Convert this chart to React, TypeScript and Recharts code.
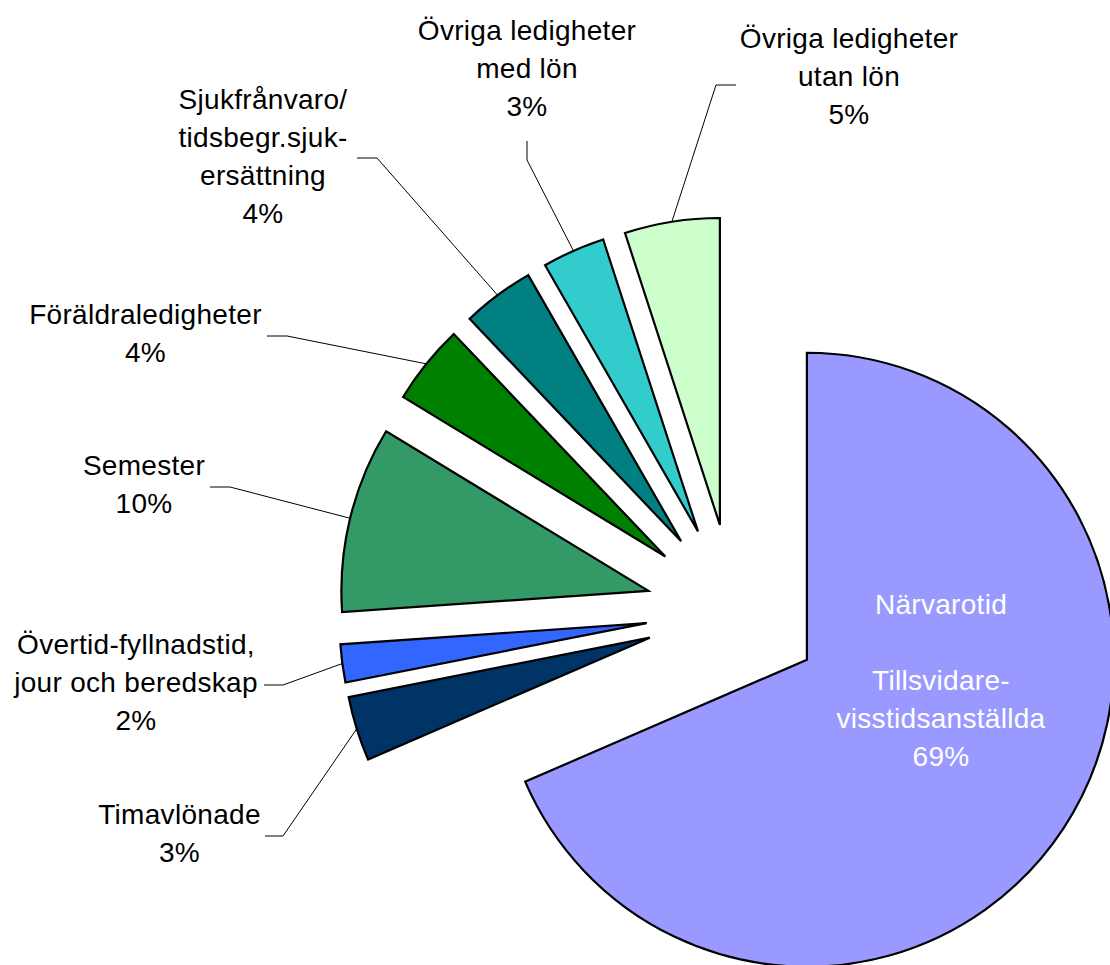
import React from 'react';
import { PieChart, Pie, Cell } from 'recharts';

// ---- data (values in tenths of a percent) ----
const categories = [
  'Närvarotid Tillsvidare-visstidsanställda',
  'Timavlönade',
  'Övertid-fyllnadstid, jour och beredskap',
  'Semester',
  'Föräldraledigheter',
  'Sjukfrånvaro/tidsbegr.sjukersättning',
  'Övriga ledigheter med lön',
  'Övriga ledigheter utan lön',
];
const shares = [685, 34, 20, 98, 42, 38, 33, 50];
const labelLines = [
  ['Närvarotid', '', 'Tillsvidare-', 'visstidsanställda'],
  ['Timavlönade'],
  ['Övertid-fyllnadstid,', 'jour och beredskap'],
  ['Semester'],
  ['Föräldraledigheter'],
  ['Sjukfrånvaro/', 'tidsbegr.sjuk-', 'ersättning'],
  ['Övriga ledigheter', 'med lön'],
  ['Övriga ledigheter', 'utan lön'],
];
const colors = ['#9999FF', '#003366', '#3366FF', '#339966', '#008000', '#008080', '#33CCCC', '#CCFFCC'];

// ---- layout ----
const W = 1110;
const H = 965;
const CX = 733.6;
const CY = 611.6;
const R = 307;
const EXPLODE = 87.7;
const LINE_H = 38;
const FONT = "'Liberation Sans', Arial, sans-serif";

type LabelLayout = { x: number; y: number; fill: string; elbow?: [number, number]; end?: [number, number] };
const labelLayout: LabelLayout[] = [
  { x: 941, y: 614, fill: '#ffffff' },
  { x: 179.5, y: 824, fill: '#000', elbow: [283, 836], end: [265, 836] },
  { x: 136, y: 654, fill: '#000', elbow: [283, 685], end: [264, 685] },
  { x: 144, y: 475, fill: '#000', elbow: [230, 487], end: [210, 487] },
  { x: 145.5, y: 324, fill: '#000', elbow: [287, 336], end: [267, 336] },
  { x: 263, y: 109, fill: '#000', elbow: [377, 158], end: [357, 158] },
  { x: 527, y: 40, fill: '#000', elbow: [527, 160], end: [527, 141] },
  { x: 849, y: 48, fill: '#000', elbow: [716, 85], end: [736, 85] },
];

const data = categories.map((name, i) => ({ name, value: shares[i] }));
const total = shares.reduce((a, b) => a + b, 0);
const mids: number[] = [];
{
  let acc = 0;
  shares.forEach((v) => {
    mids.push(90 - (360 * (acc + v / 2)) / total);
    acc += v;
  });
}

function renderLabel(p: any, i: number, cx: number, cy: number) {
  if (p.index !== i) return null;
  const L = labelLayout[i];
  const rad = (mids[i] * Math.PI) / 180;
  const ex = cx + R * Math.cos(rad);
  const ey = cy - R * Math.sin(rad);
  const lines = [...labelLines[i], `${Math.round((shares[i] * 100) / total)}%`];
  return (
    <g key={`lbl-${i}`}>
      {L.elbow && L.end ? (
        <polyline
          points={`${ex},${ey} ${L.elbow[0]},${L.elbow[1]} ${L.end[0]},${L.end[1]}`}
          fill="none"
          stroke="#000"
          strokeWidth={1}
        />
      ) : null}
      <text textAnchor="middle" fontFamily={FONT} fontSize={28} fill={L.fill} letterSpacing={0.3}>
        {lines.map((t, k) =>
          t ? (
            <tspan key={k} x={L.x} y={L.y + k * LINE_H}>
              {t}
            </tspan>
          ) : null
        )}
      </text>
    </g>
  );
}

export default function App() {
  return (
    <div style={{ position: 'absolute', left: 0, top: 0, width: W, height: H, background: '#fff' }}>
      <PieChart width={W} height={H} margin={{ top: 0, right: 0, bottom: 0, left: 0 }}>
        {data.map((_, i) => {
          const rad = (mids[i] * Math.PI) / 180;
          const cx = CX + EXPLODE * Math.cos(rad);
          const cy = CY - EXPLODE * Math.sin(rad);
          return (
            <Pie
              key={i}
              data={data}
              dataKey="value"
              nameKey="name"
              cx={cx}
              cy={cy}
              innerRadius={0}
              outerRadius={R}
              startAngle={90}
              endAngle={-270}
              isAnimationActive={false}
              labelLine={false}
              stroke="#000"
              strokeWidth={2.2}
              label={(p: any) => renderLabel(p, i, cx, cy)}
            >
              {data.map((d, j) => (
                <Cell
                  key={j}
                  fill={j === i ? colors[j] : 'none'}
                  stroke={j === i ? '#000' : 'none'}
                  strokeWidth={j === i ? 2.2 : 0}
                />
              ))}
            </Pie>
          );
        })}
      </PieChart>
    </div>
  );
}
